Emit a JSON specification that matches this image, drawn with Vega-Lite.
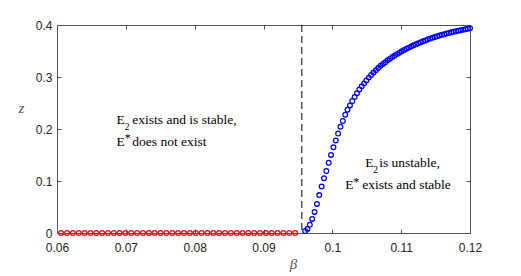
{
  "$schema": "https://vega.github.io/schema/vega-lite/v6.json",
  "width": 413,
  "height": 208,
  "autosize": {"type": "none"},
  "padding": {"left": 57, "top": 25, "right": 51, "bottom": 43},
  "background": "white",
  "config": {
    "view": {"stroke": null},
    "axis": {
      "domainColor": "#555555",
      "tickColor": "#555555",
      "tickSize": -4,
      "grid": false,
      "labelFont": "Liberation Sans",
      "labelFontSize": 12,
      "labelColor": "#222222",
      "titleFont": "Liberation Serif",
      "titleFontStyle": "italic",
      "titleFontWeight": "normal",
      "titleColor": "#555555",
      "titleFontSize": 15
    }
  },
  "datasets": {
    "red": [
      {"beta": 0.0606, "z": 0}, {"beta": 0.06145, "z": 0}, {"beta": 0.0623, "z": 0}, {"beta": 0.06315, "z": 0},
      {"beta": 0.064, "z": 0}, {"beta": 0.06485, "z": 0}, {"beta": 0.0657, "z": 0}, {"beta": 0.06655, "z": 0},
      {"beta": 0.0674, "z": 0}, {"beta": 0.06825, "z": 0}, {"beta": 0.0691, "z": 0}, {"beta": 0.06995, "z": 0},
      {"beta": 0.0708, "z": 0}, {"beta": 0.07165, "z": 0}, {"beta": 0.0725, "z": 0}, {"beta": 0.07335, "z": 0},
      {"beta": 0.0742, "z": 0}, {"beta": 0.07505, "z": 0}, {"beta": 0.0759, "z": 0}, {"beta": 0.07675, "z": 0},
      {"beta": 0.0776, "z": 0}, {"beta": 0.07845, "z": 0}, {"beta": 0.0793, "z": 0}, {"beta": 0.08015, "z": 0},
      {"beta": 0.081, "z": 0}, {"beta": 0.08185, "z": 0}, {"beta": 0.0827, "z": 0}, {"beta": 0.08355, "z": 0},
      {"beta": 0.0844, "z": 0}, {"beta": 0.08525, "z": 0}, {"beta": 0.0861, "z": 0}, {"beta": 0.08695, "z": 0},
      {"beta": 0.0878, "z": 0}, {"beta": 0.08865, "z": 0}, {"beta": 0.0895, "z": 0}, {"beta": 0.09035, "z": 0},
      {"beta": 0.0912, "z": 0}, {"beta": 0.09205, "z": 0}, {"beta": 0.0929, "z": 0}, {"beta": 0.09375, "z": 0},
      {"beta": 0.0946, "z": 0}
    ],
    "blue": [
      {"beta": 0.09605, "z": 0.0038}, {"beta": 0.09639, "z": 0.0079}, {"beta": 0.09673, "z": 0.0160}, {"beta": 0.09708, "z": 0.0271},
      {"beta": 0.09742, "z": 0.0406}, {"beta": 0.09776, "z": 0.0560}, {"beta": 0.09810, "z": 0.0729}, {"beta": 0.09845, "z": 0.0894},
      {"beta": 0.09879, "z": 0.1052}, {"beta": 0.09913, "z": 0.1192}, {"beta": 0.09947, "z": 0.1350}, {"beta": 0.09981, "z": 0.1502},
      {"beta": 0.10016, "z": 0.1650}, {"beta": 0.10050, "z": 0.1779}, {"beta": 0.10084, "z": 0.1913}, {"beta": 0.10118, "z": 0.2042},
      {"beta": 0.10153, "z": 0.2154}, {"beta": 0.10187, "z": 0.2273}, {"beta": 0.10221, "z": 0.2369}, {"beta": 0.10256, "z": 0.2454},
      {"beta": 0.10290, "z": 0.2538}, {"beta": 0.10324, "z": 0.2615}, {"beta": 0.10358, "z": 0.2688}, {"beta": 0.10393, "z": 0.2762},
      {"beta": 0.10427, "z": 0.2823}, {"beta": 0.10461, "z": 0.2877}, {"beta": 0.10495, "z": 0.2935}, {"beta": 0.10530, "z": 0.2988},
      {"beta": 0.10564, "z": 0.3038}, {"beta": 0.10598, "z": 0.3085}, {"beta": 0.10633, "z": 0.3129}, {"beta": 0.10667, "z": 0.3171},
      {"beta": 0.10701, "z": 0.3215}, {"beta": 0.10735, "z": 0.3252}, {"beta": 0.10770, "z": 0.3285}, {"beta": 0.10804, "z": 0.3321},
      {"beta": 0.10838, "z": 0.3352}, {"beta": 0.10872, "z": 0.3383}, {"beta": 0.10907, "z": 0.3412}, {"beta": 0.10941, "z": 0.3440},
      {"beta": 0.10975, "z": 0.3467}, {"beta": 0.11009, "z": 0.3493}, {"beta": 0.11044, "z": 0.3518}, {"beta": 0.11078, "z": 0.3542},
      {"beta": 0.11112, "z": 0.3565}, {"beta": 0.11147, "z": 0.3588}, {"beta": 0.11181, "z": 0.3609}, {"beta": 0.11215, "z": 0.3630},
      {"beta": 0.11249, "z": 0.3649}, {"beta": 0.11284, "z": 0.3669}, {"beta": 0.11318, "z": 0.3687}, {"beta": 0.11352, "z": 0.3704},
      {"beta": 0.11386, "z": 0.3721}, {"beta": 0.11421, "z": 0.3738}, {"beta": 0.11455, "z": 0.3753}, {"beta": 0.11489, "z": 0.3769},
      {"beta": 0.11523, "z": 0.3783}, {"beta": 0.11558, "z": 0.3797}, {"beta": 0.11592, "z": 0.3811}, {"beta": 0.11626, "z": 0.3823},
      {"beta": 0.11661, "z": 0.3836}, {"beta": 0.11695, "z": 0.3848}, {"beta": 0.11729, "z": 0.3859}, {"beta": 0.11763, "z": 0.3870},
      {"beta": 0.11798, "z": 0.3881}, {"beta": 0.11832, "z": 0.3891}, {"beta": 0.11866, "z": 0.3901}, {"beta": 0.11900, "z": 0.3911},
      {"beta": 0.11935, "z": 0.3920}, {"beta": 0.11969, "z": 0.3929}, {"beta": 0.12000, "z": 0.3937}
    ],
    "threshold": [{"beta": 0.09557}],
    "words": [
      {"beta": 0.068648, "z": 0.2096, "text": "E"},
      {"beta": 0.070945, "z": 0.2096, "text": "exists and is stable,"},
      {"beta": 0.068648, "z": 0.1679, "text": "E"},
      {"beta": 0.070945, "z": 0.1679, "text": "does not exist"},
      {"beta": 0.104767, "z": 0.1275, "text": "E"},
      {"beta": 0.106802, "z": 0.1275, "text": "is unstable,"},
      {"beta": 0.10186, "z": 0.08404, "text": "E"},
      {"beta": 0.104331, "z": 0.08404, "text": "exists and stable"}
    ],
    "subs": [
      {"beta": 0.069855, "z": 0.1981, "text": "2"},
      {"beta": 0.10593, "z": 0.1160, "text": "2"}
    ],
    "sups": [
      {"beta": 0.069855, "z": 0.1744, "text": "*"},
      {"beta": 0.103023, "z": 0.0906, "text": "*"}
    ]
  },
  "resolve": {"scale": {"x": "shared", "y": "shared"}, "axis": {"x": "independent", "y": "independent"}},
  "layer": [
    {
      "data": {"name": "red"},
      "mark": {"type": "point", "shape": "circle", "filled": false, "size": 22, "strokeWidth": 1.3, "color": "#ff0000", "opacity": 1, "clip": false},
      "encoding": {
        "x": {"field": "beta", "type": "quantitative",
              "scale": {"domain": [0.06, 0.12], "nice": false, "zero": false},
              "axis": {"orient": "bottom", "values": [0.06, 0.07, 0.08, 0.09, 0.1, 0.11, 0.12], "format": ".2~f",
                       "labelPadding": 13, "labelFlush": false, "title": "β", "titleX": 236, "titleY": 30, "titleBaseline": "middle", "titleAlign": "center"}},
        "y": {"field": "z", "type": "quantitative",
              "scale": {"domain": [0, 0.4], "nice": false, "zero": false},
              "axis": {"orient": "left", "values": [0, 0.1, 0.2, 0.3, 0.4], "format": ".1~f",
                       "labelPadding": 9, "labelFlush": false, "title": "z", "titleAngle": 0, "titleX": -36, "titleY": 82,
                       "titleBaseline": "middle", "titleAlign": "center"}}
      }
    },
    {
      "data": {"name": "blue"},
      "mark": {"type": "point", "shape": "circle", "filled": false, "size": 22, "strokeWidth": 1.3, "color": "#0000ff", "opacity": 1, "clip": false},
      "encoding": {
        "x": {"field": "beta", "type": "quantitative", "axis": null},
        "y": {"field": "z", "type": "quantitative", "axis": null}
      }
    },
    {
      "data": {"name": "threshold"},
      "mark": {"type": "rule", "color": "#000000", "strokeWidth": 1, "strokeDash": [7, 4]},
      "encoding": {
        "x": {"field": "beta", "type": "quantitative",
              "axis": {"orient": "top", "values": [0.06, 0.07, 0.08, 0.09, 0.1, 0.11, 0.12], "labels": false, "title": null}}
      }
    },
    {
      "data": {"name": "words"},
      "mark": {"type": "text", "font": "Liberation Serif", "fontSize": 13.5, "align": "left", "baseline": "alphabetic", "color": "#000000"},
      "encoding": {
        "x": {"field": "beta", "type": "quantitative", "axis": null},
        "y": {"field": "z", "type": "quantitative",
              "axis": {"orient": "right", "values": [0, 0.1, 0.2, 0.3, 0.4], "labels": false, "title": null}},
        "text": {"field": "text"}
      }
    },
    {
      "data": {"name": "subs"},
      "mark": {"type": "text", "font": "Liberation Serif", "fontSize": 9.5, "align": "left", "baseline": "alphabetic", "color": "#000000"},
      "encoding": {
        "x": {"field": "beta", "type": "quantitative", "axis": null},
        "y": {"field": "z", "type": "quantitative", "axis": null},
        "text": {"field": "text"}
      }
    },
    {
      "data": {"name": "sups"},
      "mark": {"type": "text", "font": "Liberation Serif", "fontSize": 12, "align": "left", "baseline": "alphabetic", "color": "#000000"},
      "encoding": {
        "x": {"field": "beta", "type": "quantitative", "axis": null},
        "y": {"field": "z", "type": "quantitative", "axis": null},
        "text": {"field": "text"}
      }
    }
  ]
}
